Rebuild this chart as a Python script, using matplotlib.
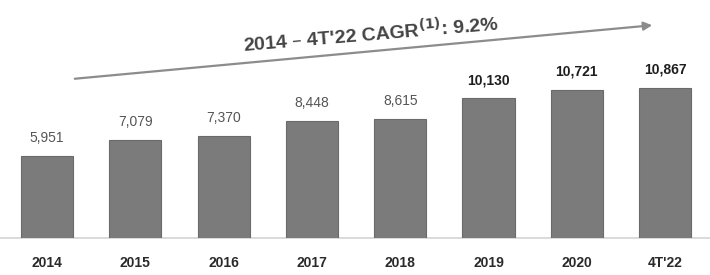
import numpy as np
import matplotlib
matplotlib.use("Agg")
import matplotlib.pyplot as plt

# data
periods = ["2014", "2015", "2016", "2017", "2018", "2019", "2020", "4T'22"]
values = [5951, 7079, 7370, 8448, 8615, 10130, 10721, 10867]
bold_from = 5  # labels from 2019 on are bold
cagr_text = "2014 \u2013 4T'22 CAGR$^{\\mathbf{(1)}}$: 9.2%"

plt.rcParams['font.family'] = ['Liberation Sans', 'DejaVu Sans']

fig = plt.figure(figsize=(7.10, 2.75), dpi=100)
ax = fig.add_axes([0, 37/275, 1, 238/275])

x = np.arange(len(periods))
bars = ax.bar(x, values, width=0.59, color="#7b7b7b", edgecolor="#6a6a6a", linewidth=0.8, zorder=2)

ax.set_xlim(-0.532, len(periods) - 0.492)
ax.set_ylim(0, 17240)

#baseline
ax.axhline(0, color="#d4d4d4", linewidth=1.2, zorder=1, clip_on=False)

for i, (xi, v) in enumerate(zip(x, values)):
    if i >= bold_from:
        ax.annotate(f"{v:,}", (xi, v), xytext=(0, 8), textcoords="offset points",
                    ha="center", va="bottom", fontsize=10, fontweight="bold", color="#1e1e1e")
    else:
        ax.annotate(f"{v:,}", (xi, v), xytext=(0, 8), textcoords="offset points",
                    ha="center", va="bottom", fontsize=10, color="#555555")

ax.set_xticks(x)
ax.set_xticklabels(periods, fontsize=10, fontweight="bold", color="#2a2a2a")
ax.tick_params(axis="x", length=0, pad=13)
ax.set_yticks([])
for s in ax.spines.values():
    s.set_visible(False)

# growth arrow + CAGR text
fig.patches.append(matplotlib.patches.FancyArrowPatch(
    (72/710, 1 - 79/275), (655/710, 1 - 25/275), transform=fig.transFigure,
    arrowstyle="-|>,head_length=5,head_width=2.5", color="#8c8c8c", linewidth=1.6))
fig.text(371/710, 1 - 34/275, cagr_text, rotation=4.8, rotation_mode="anchor",
         ha="center", va="center", fontsize=14, fontweight="bold", color="#444444")

fig.savefig("out.png", dpi=100)
